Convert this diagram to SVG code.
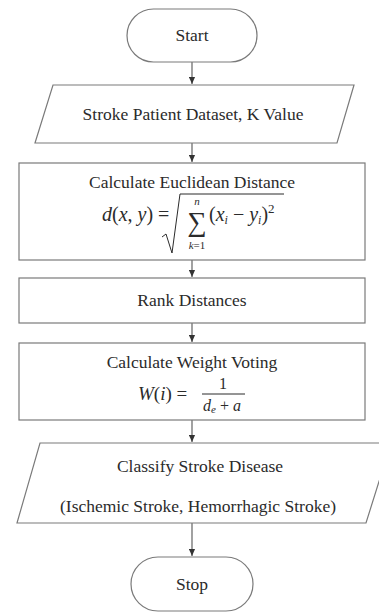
<svg xmlns="http://www.w3.org/2000/svg" width="379" height="612" viewBox="0 0 379 612">
<defs>
<style>
.shape{fill:#fff;stroke:#7a7a7a;stroke-width:1.2}
.lbl{font-family:"Liberation Serif","DejaVu Serif",serif;font-size:17.5px;fill:#2b2b2b;text-anchor:middle}
.m{font-family:"Liberation Serif","DejaVu Serif",serif;fill:#2b2b2b}
.i{font-style:italic}
.conn{stroke:#555;stroke-width:1.1;fill:none;marker-end:url(#ah)}
</style>
<marker id="ah" viewBox="0 0 8 8" refX="8" refY="4" markerWidth="7" markerHeight="7" markerUnits="userSpaceOnUse" orient="auto">
<path d="M0,0.5 L8,4 L0,7.5 Z" fill="#333"/>
</marker>
</defs>
<rect width="379" height="612" fill="#fff"/>
<g id="connectors">
<line class="conn" x1="192" y1="62" x2="192" y2="84"/>
<line class="conn" x1="192" y1="143" x2="192" y2="162"/>
<line class="conn" x1="192" y1="260" x2="192" y2="277"/>
<line class="conn" x1="192" y1="323" x2="192" y2="342"/>
<line class="conn" x1="192" y1="420" x2="192" y2="442"/>
<line class="conn" x1="192" y1="523" x2="192" y2="556"/>
</g>
<g id="start">
<rect class="shape" x="127" y="9" width="130" height="53" rx="26.5"/>
<text class="lbl" x="192" y="41">Start</text>
</g>
<g id="input">
<polygon class="shape" points="53,85 354,85 337,143 35,143"/>
<text class="lbl" x="193" y="120">Stroke Patient Dataset, K Value</text>
</g>
<g id="euclidean">
<rect class="shape" x="19" y="163" width="346" height="97"/>
<text class="lbl" x="192" y="188">Calculate Euclidean Distance</text>
<text class="m" font-size="20" y="221"><tspan x="102" class="i">d</tspan><tspan>(</tspan><tspan class="i">x</tspan><tspan>, </tspan><tspan class="i">y</tspan><tspan>) =</tspan></text>
<path d="M162,237 L166,234 L172,253 L180,194 L284,194" fill="none" stroke="#2b2b2b" stroke-width="1"/>
<text class="m i" font-size="11" x="197" y="205" text-anchor="middle">n</text>
<text class="m" font-size="27" x="197" y="231" text-anchor="middle">∑</text>
<text class="m" font-size="11" x="197" y="249" text-anchor="middle"><tspan class="i">k</tspan>=1</text>
<text class="m" font-size="20" y="221"><tspan x="209">(</tspan><tspan class="i">x</tspan><tspan class="i" font-size="12" dy="3">i</tspan><tspan dy="-3"> − </tspan><tspan class="i">y</tspan><tspan class="i" font-size="12" dy="3">i</tspan><tspan dy="-3">)</tspan><tspan font-size="13" dy="-8">2</tspan></text>
</g>
<g id="rank">
<rect class="shape" x="19" y="278" width="346" height="45"/>
<text class="lbl" x="192" y="306">Rank Distances</text>
</g>
<g id="weight">
<rect class="shape" x="19" y="343" width="346" height="77"/>
<text class="lbl" x="192" y="368">Calculate Weight Voting</text>
<text class="m" font-size="19" y="400"><tspan x="138" class="i">W</tspan><tspan>(</tspan><tspan class="i">i</tspan><tspan>) =</tspan></text>
<text class="m" font-size="16" x="223" y="389" text-anchor="middle">1</text>
<line x1="202" y1="394" x2="245" y2="394" stroke="#2b2b2b" stroke-width="1"/>
<text class="m" font-size="16" y="411"><tspan x="203" class="i">d</tspan><tspan class="i" font-size="11" dy="2">e</tspan><tspan dy="-2"> + </tspan><tspan class="i">a</tspan></text>
</g>
<g id="classify">
<polygon class="shape" points="40,443 391,443 366,523 17,523"/>
<text class="lbl" x="200" y="472">Classify Stroke Disease</text>
<text class="lbl" x="198" y="512">(Ischemic Stroke, Hemorrhagic Stroke)</text>
</g>
<g id="stop">
<rect class="shape" x="131" y="557" width="122" height="54" rx="27"/>
<text class="lbl" x="192" y="590">Stop</text>
</g>
</svg>
